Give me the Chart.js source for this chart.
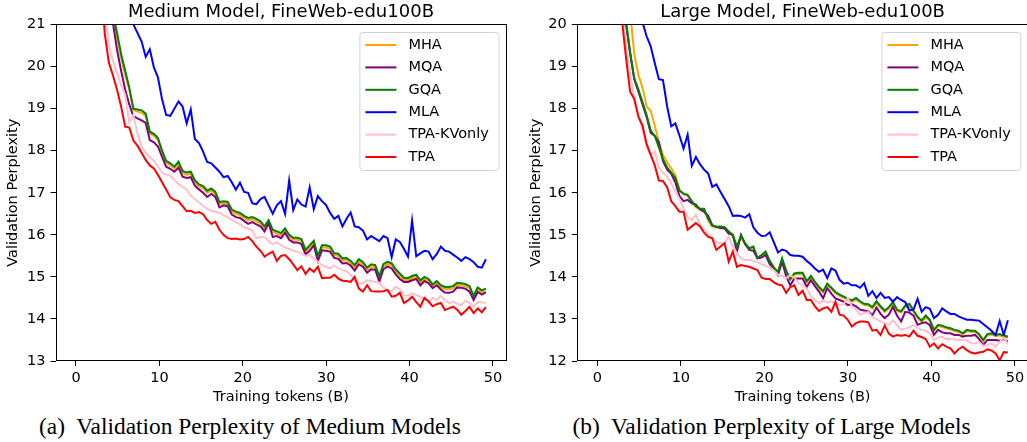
<!DOCTYPE html>
<html>
<head>
<meta charset="utf-8">
<script src="https://cdn.jsdelivr.net/npm/chart.js@4.4.0/dist/chart.umd.min.js"></script>
<style>
  html, body { margin: 0; padding: 0; background: #fff; overflow: hidden; }
  #wrap { position: relative; width: 1027px; height: 442px; overflow: hidden; }
  #wrap canvas { position: absolute; top: 0; }
  .cap {
    position: absolute; top: 413px; text-align: center; white-space: pre;
    font-family: "Liberation Serif", "Times New Roman", serif; font-size: 23.4px; color: #000;
  }
</style>
</head>
<body>
<div id="wrap">
  <canvas id="medium" width="515" height="410" style="left:0px"></canvas>
  <canvas id="large" width="520" height="410" style="left:515px"></canvas>
  <div class="cap" style="left:0px;width:500px">(a)  Validation Perplexity of Medium Models</div>
  <div class="cap" style="left:521px;width:501px">(b)  Validation Perplexity of Large Models</div>
</div>
<script>
// ===================================================
// Validation perplexity curves - medium / large models
// ===================================================

// Training tokens (B) at each evaluation
var tokens = [
  0.49, 0.98, 1.47, 1.97, 2.46, 2.95, 3.44, 3.93, 4.42, 4.92,
  5.41, 5.90, 6.39, 6.88, 7.37, 7.86, 8.36, 8.85, 9.34, 9.83,
  10.32, 10.81, 11.31, 11.80, 12.29, 12.78, 13.27, 13.76, 14.25, 14.75,
  15.24, 15.73, 16.22, 16.71, 17.20, 17.69, 18.19, 18.68, 19.17, 19.66,
  20.15, 20.64, 21.14, 21.63, 22.12, 22.61, 23.10, 23.59, 24.08, 24.58,
  25.07, 25.56, 26.05, 26.54, 27.03, 27.53, 28.02, 28.51, 29.00, 29.49,
  29.98, 30.47, 30.97, 31.46, 31.95, 32.44, 32.93, 33.42, 33.91, 34.41,
  34.90, 35.39, 35.88, 36.37, 36.86, 37.36, 37.85, 38.34, 38.83, 39.32,
  39.81, 40.30, 40.80, 41.29, 41.78, 42.27, 42.76, 43.25, 43.75, 44.24,
  44.73, 45.22, 45.71, 46.20, 46.69, 47.19, 47.68, 48.17, 48.66, 49.15
];

var seriesNames = ['MHA', 'MQA', 'GQA', 'MLA', 'TPA-KVonly', 'TPA'];
var seriesColors = ['#ffa500', '#800080', '#008000', '#0000ff', '#ffc0cb', '#ff0000'];

var xTicks = [0, 10, 20, 30, 40, 50];
var yTicksMedium = [13, 14, 15, 16, 17, 18, 19, 20, 21];
var yTicksLarge = [12, 13, 14, 15, 16, 17, 18, 19, 20];

// ---- Medium model ----
var mediumMHA = [
  60, 40, 32, 27, 24, 22.7, 21.9, 21.5, 21.2, 20.7,
  20.2, 19.8, 19.45, 18.97, 18.93, 18.9, 18.82, 18.4, 18.36, 18.25,
  17.97, 17.72, 17.65, 17.58, 17.68, 17.47, 17.43, 17.45, 17.25, 17.15,
  17.11, 17.0, 17.05, 16.97, 16.73, 16.75, 16.72, 16.55, 16.5, 16.47,
  16.4, 16.35, 16.37, 16.32, 16.27, 16.15, 16.3, 16.07, 16.03, 15.99,
  16.1, 15.95, 15.88, 15.88, 15.85, 15.59, 15.7, 15.81, 15.45, 15.7,
  15.7, 15.67, 15.51, 15.5, 15.39, 15.4, 15.33, 15.23, 15.37, 15.3,
  15.17, 15.25, 15.23, 14.97, 15.25, 15.31, 15.27, 15.13, 15.03, 14.93,
  14.92, 14.97, 15.0, 14.87, 14.95, 14.9, 14.77, 14.85, 14.75, 14.71,
  14.71, 14.73, 14.81, 14.8, 14.78, 14.73, 14.5, 14.7, 14.63, 14.66
];
var mediumMQA = [
  60, 40, 31, 26.5, 23.5, 22.3, 21.6, 21.3, 21.05, 20.4,
  19.9, 19.45, 19.1, 18.82, 18.77, 18.72, 18.66, 18.25, 18.2, 18.1,
  17.85, 17.62, 17.57, 17.5, 17.6, 17.38, 17.35, 17.37, 17.17, 17.08,
  17.0, 16.9, 16.97, 16.9, 16.65, 16.7, 16.68, 16.48, 16.42, 16.4,
  16.33, 16.26, 16.3, 16.25, 16.2, 16.08, 16.28, 15.95, 15.97, 15.92,
  16.05, 15.88, 15.82, 15.82, 15.78, 15.53, 15.62, 15.75, 15.38, 15.63,
  15.62, 15.6, 15.45, 15.43, 15.32, 15.33, 15.27, 15.15, 15.3, 15.24,
  15.1, 15.18, 15.17, 14.88, 15.18, 15.25, 15.2, 15.06, 14.95, 14.88,
  14.88, 14.92, 14.95, 14.8, 14.9, 14.85, 14.73, 14.8, 14.7, 14.63,
  14.62, 14.65, 14.75, 14.74, 14.72, 14.65, 14.45, 14.64, 14.58, 14.63
];
var mediumGQA = [
  60, 40, 32, 27, 24, 22.8, 22.0, 21.6, 21.3, 20.8,
  20.3, 19.9, 19.5, 19.0, 18.98, 18.96, 18.88, 18.45, 18.4, 18.3,
  18.0, 17.76, 17.7, 17.62, 17.74, 17.52, 17.48, 17.5, 17.3, 17.2,
  17.16, 17.05, 17.1, 17.02, 16.78, 16.8, 16.78, 16.6, 16.55, 16.52,
  16.45, 16.4, 16.42, 16.38, 16.32, 16.2, 16.35, 16.12, 16.08, 16.04,
  16.15, 16.0, 15.93, 15.93, 15.9, 15.64, 15.75, 15.86, 15.5, 15.75,
  15.75, 15.72, 15.56, 15.55, 15.44, 15.45, 15.38, 15.28, 15.42, 15.35,
  15.22, 15.3, 15.28, 15.02, 15.3, 15.36, 15.32, 15.18, 15.08, 14.98,
  14.97, 15.02, 15.05, 14.92, 15.0, 14.95, 14.82, 14.9, 14.8, 14.76,
  14.76, 14.78, 14.86, 14.85, 14.83, 14.78, 14.55, 14.75, 14.68, 14.72
];
var mediumMLA = [
  80, 60, 48, 40, 35, 31, 28, 26, 24.5, 23.3,
  22.4, 21.8, 21.3, 21.0, 20.8, 20.6, 20.23, 20.41, 19.98, 19.74,
  19.22, 18.85, 18.83, 19.0, 19.17, 19.05, 18.65, 18.98, 18.28, 18.18,
  17.98, 17.73, 17.7, 17.6, 17.5, 17.37, 17.4, 17.25, 17.07, 17.24,
  17.02, 17.0, 16.75, 16.73, 16.85, 16.9, 16.7, 16.5, 16.7, 16.8,
  16.5, 17.29, 16.59, 16.84, 16.72, 16.67, 17.13, 16.61, 16.92, 16.8,
  16.71, 16.52, 16.38, 16.45, 16.2, 16.38, 16.53, 16.2, 16.18, 16.1,
  15.89, 15.97, 15.91, 15.85, 15.97, 15.92, 15.47, 15.89, 15.83, 15.67,
  15.48, 16.34, 15.49, 15.56, 15.62, 15.6, 15.42, 15.54, 15.72, 15.62,
  15.6, 15.53, 15.46, 15.38, 15.47, 15.42, 15.35, 15.24, 15.22, 15.42
];
var mediumTPAKV = [
  60, 40, 32, 27, 24, 22.5, 21.3, 20.5, 20.15, 19.85,
  19.55, 19.33, 18.67, 18.85, 18.4, 18.1, 17.95, 17.85, 17.76, 17.62,
  17.48, 17.43, 17.41, 17.3, 17.21, 17.14, 17.08, 16.93, 16.85, 16.77,
  16.69, 16.62, 16.57, 16.55, 16.53, 16.46, 16.42, 16.35, 16.3, 16.25,
  16.18, 16.15, 16.1, 15.92, 15.95, 15.94, 15.85, 15.78, 15.82, 15.75,
  15.7, 15.66, 15.62, 15.6, 15.56, 15.5, 15.52, 15.44, 15.36, 15.28,
  15.24, 15.2, 15.27, 15.2, 15.16, 15.13, 15.05, 14.9, 14.84, 14.85,
  14.92, 14.9, 14.88, 14.86, 14.75, 14.68, 14.66, 14.77, 14.7, 14.56,
  14.55, 14.61, 14.57, 14.53, 14.47, 14.41, 14.5, 14.45, 14.55, 14.45,
  14.37, 14.41, 14.36, 14.33, 14.43, 14.38, 14.29, 14.41, 14.4, 14.37
];
var mediumTPA = [
  60, 40, 32, 27, 24, 22.3, 20.8, 20.1, 19.8, 19.45,
  19.05, 18.57, 18.55, 18.24, 18.12, 17.95, 17.78, 17.65, 17.58, 17.42,
  17.25, 17.08, 16.89, 16.83, 16.8, 16.68, 16.56, 16.57, 16.52, 16.54,
  16.49, 16.35, 16.26, 16.31, 16.12, 16.0, 15.92, 15.9, 15.91, 15.89,
  15.9, 15.95, 15.85, 15.72, 15.62, 15.48, 15.55, 15.6, 15.38, 15.5,
  15.52, 15.42, 15.3, 15.16, 15.25, 15.07, 15.2, 15.12, 15.24, 14.97,
  14.98, 14.98, 15.05, 14.96, 14.91, 14.9, 14.88, 15.0, 14.72, 14.65,
  14.8, 14.66, 14.65, 14.65, 14.66, 14.69, 14.53, 14.55, 14.62, 14.38,
  14.44, 14.53, 14.4, 14.29, 14.5, 14.42, 14.3, 14.35, 14.38, 14.21,
  14.25, 14.29, 14.22, 14.1, 14.19, 14.29, 14.14, 14.25, 14.16, 14.28
];

// ---- Large model ----
var largeMHA = [
  60, 42, 32, 27, 24, 22.2, 21.0, 20.3, 19.3, 18.8,
  18.5, 18.05, 17.95, 17.6, 17.2, 16.9, 16.72, 16.58, 16.42, 16.08,
  15.96, 15.93, 15.78, 15.66, 15.6, 15.58, 15.35, 15.2, 15.17, 15.18,
  15.16, 15.05, 14.97, 14.7, 14.95, 14.78, 14.66, 14.69, 14.44, 14.5,
  14.57, 14.36, 14.2, 14.1, 14.4, 14.13, 13.93, 14.05, 14.07, 14.06,
  13.87, 13.99, 13.85, 13.73, 13.63, 13.8, 13.71, 13.61, 13.55, 13.5,
  13.45, 13.41, 13.46, 13.39, 13.33, 13.32, 13.25, 13.38, 13.27, 13.17,
  13.25, 13.36, 13.19, 13.15, 13.28, 13.32, 13.17, 13.02, 12.93, 13.04,
  12.95, 12.71, 12.83, 12.81, 12.77, 12.75, 12.71, 12.69, 12.63, 12.71,
  12.69, 12.69, 12.61, 12.47, 12.61, 12.63, 12.59, 12.61, 12.57, 12.55
];
var largeMQA = [
  60, 40, 30, 25, 22.4, 20.9, 20.0, 19.3, 18.7, 18.4,
  18.1, 17.8, 17.42, 17.35, 17.2, 16.75, 16.55, 16.45, 16.25, 15.92,
  15.8, 15.83, 15.75, 15.72, 15.6, 15.55, 15.45, 15.23, 15.19, 15.16,
  15.15, 15.03, 15.0, 14.6, 15.0, 14.78, 14.64, 14.62, 14.44, 14.46,
  14.52, 14.3, 14.2, 14.04, 14.36, 14.02, 13.8, 13.96, 13.96, 13.96,
  13.76, 13.92, 13.78, 13.65, 13.49, 13.73, 13.6, 13.49, 13.45, 13.41,
  13.33, 13.35, 13.3, 13.22, 13.2, 13.18, 13.09, 13.27, 13.12, 13.02,
  13.1, 13.29, 13.08, 12.94, 13.17, 13.15, 13.08, 12.86, 12.9, 12.92,
  12.85, 12.62, 12.74, 12.68, 12.66, 12.66, 12.62, 12.62, 12.58, 12.6,
  12.6, 12.62, 12.52, 12.38, 12.5, 12.5, 12.5, 12.48, 12.52, 12.46
];
var largeGQA = [
  60, 40, 30, 25, 22.5, 21.0, 20.05, 19.35, 18.72, 18.45,
  18.15, 17.85, 17.48, 17.35, 17.08, 16.8, 16.6, 16.48, 16.35, 16.05,
  15.98, 15.95, 15.8, 15.68, 15.62, 15.62, 15.38, 15.22, 15.19, 15.2,
  15.18, 15.08, 15.0, 14.72, 14.98, 14.8, 14.68, 14.72, 14.46, 14.52,
  14.6, 14.38, 14.22, 14.12, 14.44, 14.15, 13.95, 14.08, 14.1, 14.1,
  13.9, 14.02, 13.88, 13.76, 13.66, 13.84, 13.74, 13.64, 13.58, 13.53,
  13.48, 13.44, 13.5, 13.42, 13.36, 13.35, 13.28, 13.42, 13.3, 13.2,
  13.28, 13.4, 13.22, 13.18, 13.32, 13.36, 13.2, 13.05, 12.96, 13.08,
  12.98, 12.74, 12.86, 12.84, 12.8, 12.78, 12.74, 12.72, 12.66, 12.74,
  12.72, 12.72, 12.64, 12.5, 12.64, 12.66, 12.62, 12.64, 12.6, 12.58
];
var largeMLA = [
  80, 60, 45, 36, 30, 26, 23.5, 22, 21, 20.5,
  20.05, 19.72, 19.48, 19.08, 18.7, 18.68, 18.05, 17.58, 17.65, 17.36,
  17.05, 17.38, 16.64, 16.85, 16.68, 16.55, 16.46, 16.14, 16.2, 16.02,
  15.85, 15.68, 15.45, 15.46, 15.45, 15.41, 15.49, 15.18, 15.05, 14.97,
  14.98, 15.06, 14.82, 14.58, 14.65, 14.62, 14.52, 14.5, 14.5, 14.48,
  14.38, 14.3, 14.2, 14.12, 14.17, 13.97, 14.2, 14.15, 13.93, 13.84,
  13.86, 13.8, 13.8, 13.74, 13.85, 13.55, 13.66, 13.5, 13.62, 13.5,
  13.52, 13.41, 13.52, 13.45, 13.4, 13.2, 13.22, 13.48, 13.17, 13.28,
  13.24, 13.02, 13.1, 13.25, 13.18, 13.12, 13.12, 13.06, 13.02, 12.98,
  12.98, 12.97, 12.96, 12.88, 12.8, 12.72, 12.62, 12.95, 12.62, 12.97
];
var largeTPAKV = [
  60, 40, 30, 25, 22, 20.4, 19.5, 18.82, 18.28, 17.86,
  17.5, 17.1, 16.9, 16.98, 16.6, 16.48, 16.38, 16.22, 16.05, 15.85,
  15.63, 15.42, 15.35, 15.48, 15.25, 15.12, 15.02, 14.92, 14.82, 14.8,
  14.8, 14.95, 14.72, 14.56, 14.44, 14.4, 14.4, 14.38, 14.35, 14.3,
  14.26, 14.22, 14.15, 14.05, 14.02, 13.97, 14.04, 13.98, 13.86, 13.8,
  13.72, 13.55, 13.45, 13.37, 13.44, 13.4, 13.42, 13.37, 13.33, 13.35,
  13.5, 13.3, 13.22, 13.1, 13.14, 13.16, 13.04, 13.0, 12.94, 12.9,
  12.86, 12.97, 12.85, 12.74, 12.77, 12.8, 12.86, 12.78, 12.74, 12.72,
  12.65, 12.5, 12.56, 12.58, 12.52, 12.53, 12.51, 12.5, 12.5, 12.49,
  12.43, 12.42, 12.45, 12.36, 12.38, 12.42, 12.34, 12.45, 12.56, 12.4
];
var largeTPA = [
  60, 40, 30, 25, 22, 20.1, 19.2, 18.4, 18.23, 17.8,
  17.6, 17.16, 16.9, 16.65, 16.29, 16.28, 16.13, 15.8, 15.68, 15.55,
  15.55, 15.12, 15.2, 15.28, 15.2, 15.05, 14.95, 14.92, 14.64, 14.72,
  14.8, 14.36, 14.6, 14.24, 14.28, 14.26, 14.24, 14.2, 14.16, 13.98,
  13.95, 13.95, 13.87, 13.82, 13.8, 13.62, 13.76, 13.8, 13.57, 13.67,
  13.45, 13.45, 13.3, 13.19, 13.25, 13.28, 13.17, 13.41, 13.1, 13.08,
  12.98, 12.82, 12.9, 12.94, 12.94, 12.92, 12.72, 12.74, 12.62, 12.84,
  12.65, 12.58, 12.62, 12.6, 12.62, 12.58, 12.72, 12.6, 12.57, 12.52,
  12.34, 12.42, 12.3, 12.4, 12.34, 12.3, 12.18, 12.28, 12.34, 12.26,
  12.2, 12.18, 12.2, 12.22, 12.28, 12.25, 12.18, 12.02, 12.21, 12.2
];

Chart.defaults.font.family = '"DejaVu Sans", sans-serif';
Chart.defaults.color = '#000';

/**
 * Frame around the plot area (all four spines)
 */
var framePlugin = {
  id: 'frame',
  afterDatasetsDraw: function(chart) {
    var a = chart.chartArea;
    var ctx = chart.ctx;
    ctx.save();
    ctx.strokeStyle = '#000';
    ctx.lineWidth = 1;
    ctx.strokeRect(Math.round(a.left) + 0.5, Math.round(a.top) + 0.5,
      Math.round(a.right - a.left) - 1, Math.round(a.bottom - a.top) - 1);
    ctx.restore();
  }
};

/**
 * Legend box in the upper right corner of the plot area
 */
var insideLegendPlugin = {
  id: 'insideLegend',
  afterDraw: function(chart) {
    var a = chart.chartArea;
    var ctx = chart.ctx;
    var boxW = 139, boxH = 138;
    var x0 = a.right - 8 - boxW;
    var y0 = a.top + 7.5;
    ctx.save();
    ctx.beginPath();
    ctx.roundRect(x0 + 0.5, y0 + 0.5, boxW, boxH, 3);
    ctx.fillStyle = 'rgba(255,255,255,0.8)';
    ctx.fill();
    ctx.strokeStyle = '#d3d3d3';
    ctx.lineWidth = 1;
    ctx.stroke();
    ctx.font = '14.5px "DejaVu Sans"';
    ctx.textBaseline = 'middle';
    chart.data.datasets.forEach(function(ds, i) {
      var y = y0 + 13 + i * 22.4;
      ctx.beginPath();
      ctx.moveTo(x0 + 6, y);
      ctx.lineTo(x0 + 37, y);
      ctx.strokeStyle = ds.borderColor;
      ctx.lineWidth = 2;
      ctx.stroke();
      ctx.fillStyle = '#000';
      ctx.fillText(ds.label, x0 + 49, y);
    });
    ctx.restore();
  }
};

function makeChart(canvasId, titleText, series, yMin, yMax, yTicks, opts) {
  var ctx = document.getElementById(canvasId).getContext('2d');
  var datasets = series.map(function(values, i) {
    return {
      label: seriesNames[i],
      data: tokens.map(function(t, j) { return { x: t, y: values[j] }; }),
      borderColor: seriesColors[i],
      backgroundColor: seriesColors[i],
      borderWidth: 2,
      pointRadius: 0,
      tension: 0,
      fill: false,
      order: series.length - i
    };
  });

  return new Chart(ctx, {
    type: 'line',
    data: { datasets: datasets },
    plugins: [framePlugin, insideLegendPlugin],
    options: {
      responsive: false,
      animation: false,
      events: [],
      layout: { padding: { left: 0, right: opts.padRight, top: 0, bottom: 0 } },
      plugins: {
        legend: { display: false },
        tooltip: { enabled: false },
        title: {
          display: true,
          text: titleText,
          fullSize: false,
          color: '#000',
          font: { size: 18, weight: 'normal' },
          padding: { top: 2, bottom: 0.9 }
        }
      },
      scales: {
        x: {
          type: 'linear',
          min: -2.4575,
          max: 51.6075,
          afterBuildTicks: function(scale) {
            scale.ticks = xTicks.map(function(v) { return { value: v }; });
          },
          afterFit: function(scale) { scale.height = 49; },
          border: { display: false },
          grid: { display: true, drawOnChartArea: false, drawTicks: true, tickLength: 5, color: '#000', lineWidth: 1 },
          ticks: { font: { size: 14.5 }, padding: 4, maxRotation: 0 },
          title: { display: true, text: 'Training tokens (B)', font: { size: 14.5 }, padding: { top: 0, bottom: 4 } }
        },
        y: {
          min: yMin,
          max: yMax,
          afterBuildTicks: function(scale) {
            scale.ticks = yTicks.map(function(v) { return { value: v }; });
          },
          afterFit: function(scale) { scale.width = opts.yWidth; },
          border: { display: false },
          grid: { display: true, drawOnChartArea: false, drawTicks: true, tickLength: 5, color: '#000', lineWidth: 1 },
          ticks: { font: { size: 14.5 }, padding: 5 },
          title: { display: true, text: 'Validation Perplexity', font: { size: 14.5 }, padding: { top: opts.yTitlePad, bottom: 0 } }
        }
      }
    }
  });
}

makeChart('medium', 'Medium Model, FineWeb-edu100B',
  [mediumMHA, mediumMQA, mediumGQA, mediumMLA, mediumTPAKV, mediumTPA],
  13, 21, yTicksMedium, { yWidth: 55.5, padRight: 8.6, yTitlePad: 5 });

makeChart('large', 'Large Model, FineWeb-edu100B',
  [largeMHA, largeMQA, largeGQA, largeMLA, largeTPAKV, largeTPA],
  12, 20, yTicksLarge, { yWidth: 61.8, padRight: 6.6, yTitlePad: 12.3 });
</script>
</body>
</html>
